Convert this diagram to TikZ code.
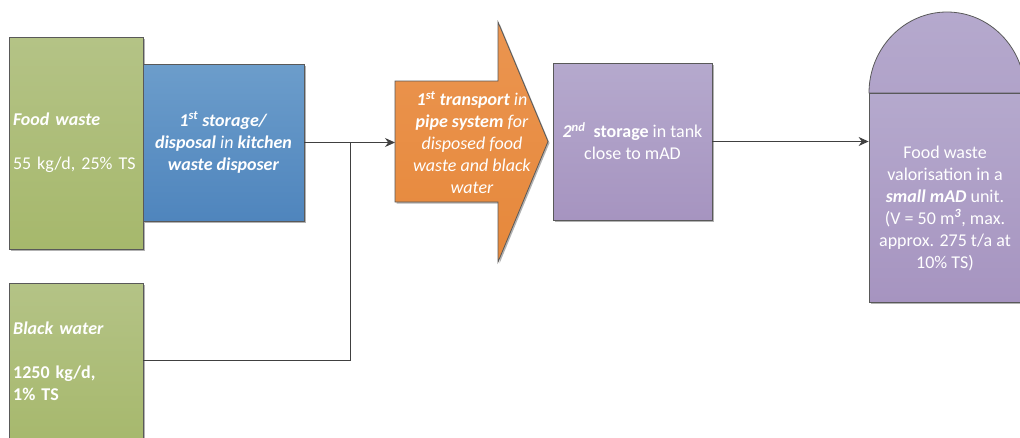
\documentclass[tikz,border=0pt]{standalone}
\usepackage{fontspec}
\setmainfont{Carlito}
\usetikzlibrary{arrows.meta,shadows,calc}
\definecolor{gTop}{HTML}{B4C386}
\definecolor{gBot}{HTML}{A6B86C}
\definecolor{bTop}{HTML}{6C9DCB}
\definecolor{bBot}{HTML}{4F85BD}
\definecolor{oTop}{HTML}{EB9550}
\definecolor{oBot}{HTML}{E6883B}
\definecolor{pTop}{HTML}{B5A9CD}
\definecolor{pBot}{HTML}{A694C0}
\definecolor{edge}{HTML}{595959}
\definecolor{wire}{HTML}{404040}
\begin{document}
\begin{tikzpicture}[x=1pt,y=-1pt,
  boxstyle/.style={draw=edge, line width=0.8pt,
    drop shadow={shadow xshift=1.5pt,shadow yshift=-1.5pt,opacity=0.3,fill=black},
    text=white, inner sep=0pt, font=\fontsize{18}{22}\selectfont, align=center},
  greenbox/.style={boxstyle, top color=gTop, bottom color=gBot},
  bluebox/.style={boxstyle, top color=bTop, bottom color=bBot},
  purplebox/.style={boxstyle, top color=pTop, bottom color=pBot},
  label/.style={text=white, inner sep=0pt, font=\fontsize{18}{22}\selectfont},
  wirestyle/.style={draw=wire, line width=1pt},
  arrowstyle/.style={wirestyle, -{Stealth[length=10pt,width=9pt]}}
]
\useasboundingbox (0,0) rectangle (1020,437);

% Food waste
\node[greenbox, minimum width=134pt, minimum height=212pt, text width=126pt, align=left]
  (fw) at (76,143) {\textbf{\textit{Food waste}}\\[22pt]55 kg/d, 25\% TS};

% Black water
\node[greenbox, minimum width=134pt, minimum height=165pt, anchor=north] (bw) at (76,283) {};
\node[label, text width=126pt, align=left, anchor=west] (bwtxt) at (13,361.5)
  {\textbf{\textit{Black water}}\\[22pt]\textbf{1250 kg/d,}\\\textbf{1\% TS}};

% 1st storage
\node[bluebox, minimum width=161pt, minimum height=157pt] (st1) at (223.5,142.5)
  {\textbf{\textit{1\textsuperscript{st} storage/}}\\
   \textbf{\textit{disposal}} \textit{in} \textbf{\textit{kitchen}}\\
   \textbf{\textit{waste disposer}}};

% orange transport arrow
\path[draw=edge, line width=0.8pt, top color=oTop, bottom color=oBot,
  drop shadow={shadow xshift=1.5pt,shadow yshift=-1.5pt,opacity=0.3,fill=black}]
  (395,81) -- (498,81) -- (498,22) -- (548,141.5) -- (498,262) -- (498,202) -- (395,202) -- cycle;
\coordinate (arrL) at (395,142.5);
\node[label, align=center] (tr) at (472,142.5)
  {\textbf{\textit{1\textsuperscript{st} transport}} \textit{in}\\
   \textbf{\textit{pipe system}} \textit{for}\\
   \textit{disposed food}\\
   \textit{waste and black}\\
   \textit{water}};

% 2nd storage
\node[purplebox, minimum width=159pt, minimum height=157pt] (st2) at (632.5,141.5)
  {\textbf{\textit{2\textsuperscript{nd}}}\ \ \textbf{storage} in tank\\close to mAD};

% mAD reactor
\path[draw=edge, line width=0.8pt, top color=pTop, bottom color=pTop!70!pBot]
  (869,93) .. controls (869,48.3) and (904,12) .. (947,12)
  .. controls (990,12) and (1025,48.3) .. (1025,93) -- cycle;
\node[purplebox, minimum width=156pt, minimum height=209pt] (mad) at (947,197.5) {};
\node[label, align=center] (madtxt) at (945,208)
  {Food waste\\valorisation in a\\\textbf{\textit{small mAD}} unit.\\
   (V = 50 m\textsuperscript{\textbf{\textit{3}}}, max.\\approx. 275 t/a at\\10\% TS)};

% connectors
\coordinate (j) at (350,142.5);
\coordinate (j2) at (350,360);
\draw[arrowstyle] (st1.east) -- (arrL);
\draw[wirestyle] (bw.east |- j2) -- (j2) -- (j);
\draw[arrowstyle] (st2.east) -- (st2.east -| mad.west);
\end{tikzpicture}
\end{document}
